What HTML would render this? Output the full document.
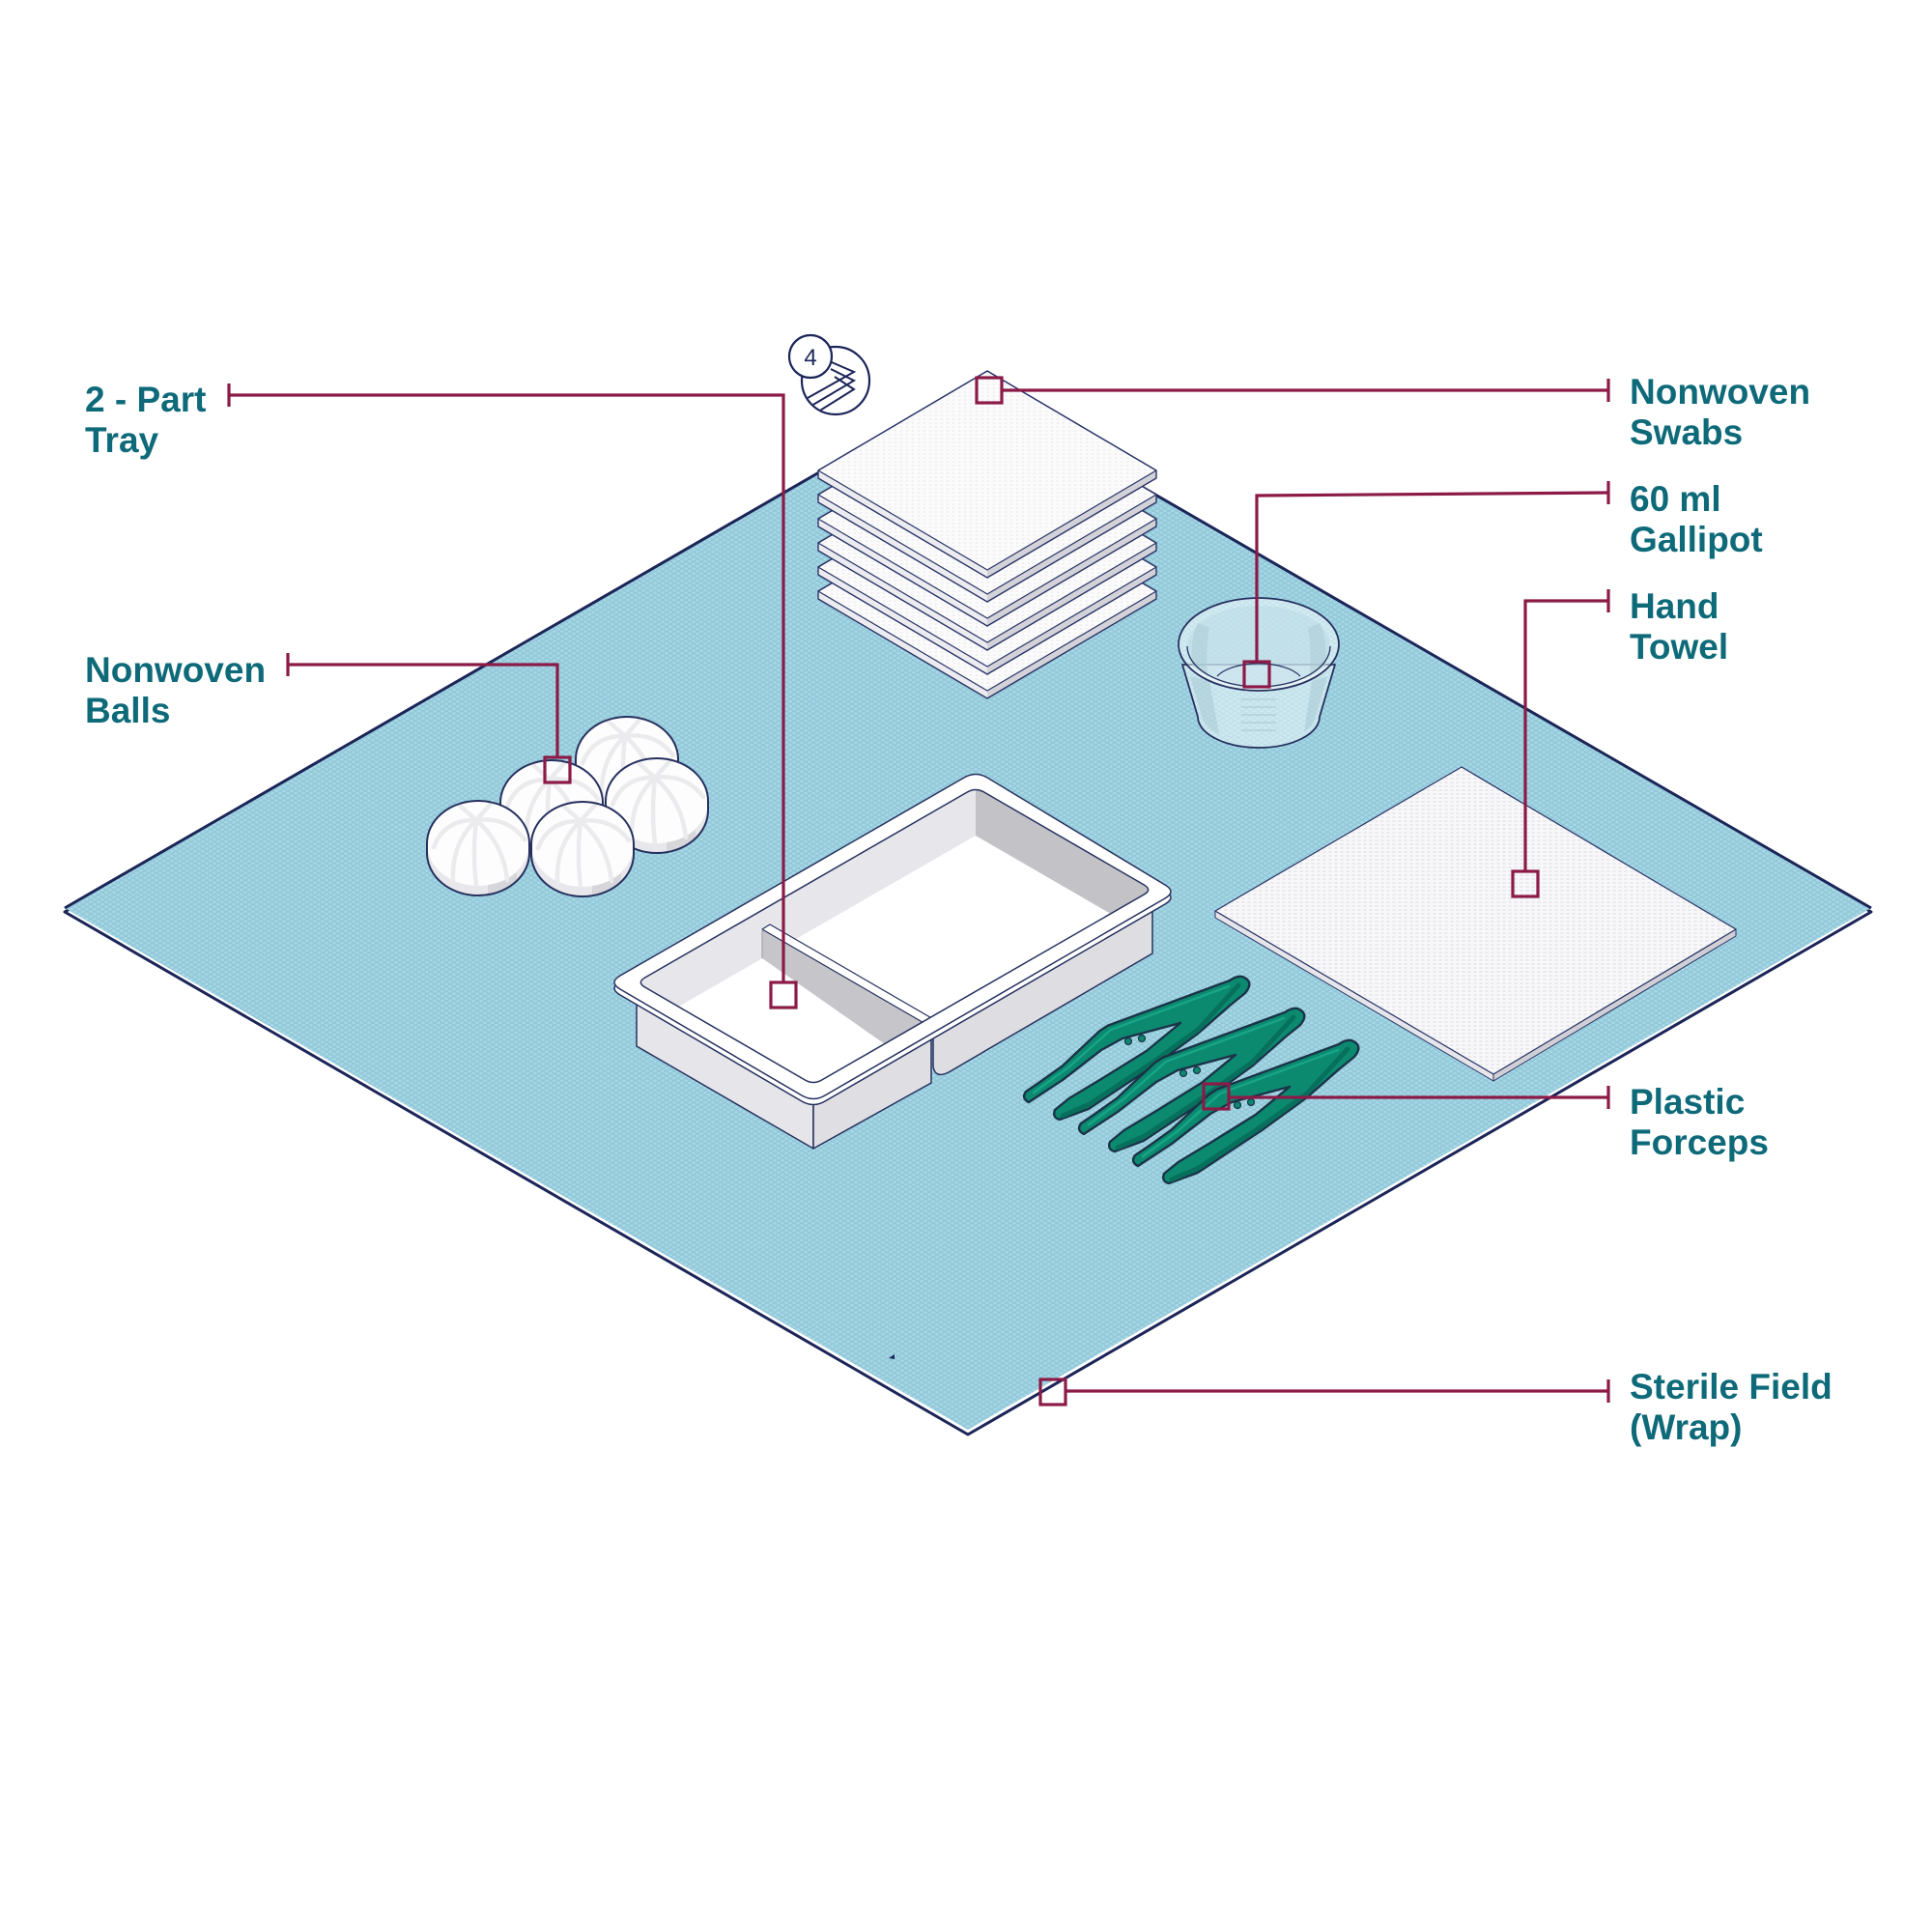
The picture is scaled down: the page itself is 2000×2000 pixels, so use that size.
<!DOCTYPE html>
<html><head><meta charset="utf-8"><style>
html,body{margin:0;padding:0;background:#fff;width:2000px;height:2000px;overflow:hidden;}
svg{display:block;}
.lbl{font-family:"Liberation Sans",Arial,sans-serif;font-weight:bold;font-size:37px;fill:#0e6a79;}
</style></head><body>
<svg width="2000" height="2000" viewBox="0 0 2000 2000" xmlns="http://www.w3.org/2000/svg">
<defs>
<pattern id="hex" width="8" height="5" patternUnits="userSpaceOnUse">
<rect width="8" height="5" fill="#93c9d9"/>
<ellipse cx="2" cy="1.25" rx="1.9" ry="1.2" fill="#a8d8e6"/>
<ellipse cx="6" cy="3.75" rx="1.9" ry="1.2" fill="#a8d8e6"/>
</pattern>
<pattern id="tw" width="6" height="4" patternUnits="userSpaceOnUse">
<rect width="6" height="4" fill="#f8f8fa"/>
<ellipse cx="3" cy="2" rx="2" ry="1" fill="#e9e9ee"/>
</pattern>
<pattern id="sw" width="6" height="4" patternUnits="userSpaceOnUse">
<rect width="6" height="4" fill="#fbfbfc"/>
<ellipse cx="3" cy="2" rx="1.6" ry="0.9" fill="#f0f0f3"/>
</pattern>
<clipPath id="open">
<path d="M667.7,1012 L1001.3,820 Q1010,815 1018.7,820 L1184.3,916 Q1193,921 1184.3,926 L850.7,1118 Q842,1123 833.3,1118 L667.7,1022 Q659,1017 667.7,1012 Z"/>
</clipPath>
<clipPath id="bigc"><circle cx="865" cy="394" r="34"/></clipPath>
</defs>

<rect width="2000" height="2000" fill="#fff"/>

<!-- Sterile field -->
<polygon points="67,944 1002,404 1937,944 1002,1485" fill="#fff" stroke="#1c2558" stroke-width="3" stroke-linejoin="round"/>
<polygon points="67,940 1002,400 1937,940 1002,1480" fill="url(#hex)"/>
<polyline points="67,940 1002,400 1937,940" fill="none" stroke="#1c2558" stroke-width="3" stroke-linejoin="round"/>
<path d="M920,1406 l6,-4 l0,5 z" fill="#1c2558"/>

<!-- Badge -->
<circle cx="865" cy="394" r="35" fill="#fff" stroke="#1c2558" stroke-width="2.2"/>
<g clip-path="url(#bigc)" fill="none" stroke="#1c2558" stroke-width="2">
<polyline points="854,372 884,385 836,412"/>
<polyline points="860,382 884,394 840,420"/>
<polyline points="864,390 884,403 844,428"/>
</g>
<circle cx="839" cy="369" r="22" fill="#fff" stroke="#1c2558" stroke-width="2.2"/>
<text x="839" y="378" text-anchor="middle" font-family="Liberation Sans, Arial, sans-serif" font-size="24" fill="#1c2558">4</text>

<!-- Swab stack -->
<g stroke-linejoin="round">
<g transform="translate(0,125)">
<polygon points="847,487 1022,590 1022,598 847,495" fill="#ececf0"/>
<polygon points="1022,590 1197,487 1197,495 1022,598" fill="#d2d2d8"/>
<polygon points="847,487 1022,384 1197,487 1022,590" fill="url(#sw)" stroke="#2a3366" stroke-width="1.2"/>
<polygon points="847,487 1022,384 1197,487 1197,495 1022,598 847,495" fill="none" stroke="#2a3366" stroke-width="1.4"/>
</g>
<g transform="translate(0,100)">
<polygon points="847,487 1022,590 1022,598 847,495" fill="#ececf0"/>
<polygon points="1022,590 1197,487 1197,495 1022,598" fill="#d2d2d8"/>
<polygon points="847,487 1022,384 1197,487 1022,590" fill="url(#sw)" stroke="#2a3366" stroke-width="1.2"/>
<polygon points="847,487 1022,384 1197,487 1197,495 1022,598 847,495" fill="none" stroke="#2a3366" stroke-width="1.4"/>
</g>
<g transform="translate(0,75)">
<polygon points="847,487 1022,590 1022,598 847,495" fill="#ececf0"/>
<polygon points="1022,590 1197,487 1197,495 1022,598" fill="#d2d2d8"/>
<polygon points="847,487 1022,384 1197,487 1022,590" fill="url(#sw)" stroke="#2a3366" stroke-width="1.2"/>
<polygon points="847,487 1022,384 1197,487 1197,495 1022,598 847,495" fill="none" stroke="#2a3366" stroke-width="1.4"/>
</g>
<g transform="translate(0,50)">
<polygon points="847,487 1022,590 1022,598 847,495" fill="#ececf0"/>
<polygon points="1022,590 1197,487 1197,495 1022,598" fill="#d2d2d8"/>
<polygon points="847,487 1022,384 1197,487 1022,590" fill="url(#sw)" stroke="#2a3366" stroke-width="1.2"/>
<polygon points="847,487 1022,384 1197,487 1197,495 1022,598 847,495" fill="none" stroke="#2a3366" stroke-width="1.4"/>
</g>
<g transform="translate(0,25)">
<polygon points="847,487 1022,590 1022,598 847,495" fill="#ececf0"/>
<polygon points="1022,590 1197,487 1197,495 1022,598" fill="#d2d2d8"/>
<polygon points="847,487 1022,384 1197,487 1022,590" fill="url(#sw)" stroke="#2a3366" stroke-width="1.2"/>
<polygon points="847,487 1022,384 1197,487 1197,495 1022,598 847,495" fill="none" stroke="#2a3366" stroke-width="1.4"/>
</g>
<g>
<polygon points="847,487 1022,590 1022,598 847,495" fill="#ececf0"/>
<polygon points="1022,590 1197,487 1197,495 1022,598" fill="#d2d2d8"/>
<polygon points="847,487 1022,384 1197,487 1022,590" fill="url(#sw)" stroke="#2a3366" stroke-width="1.2"/>
<polygon points="847,487 1022,384 1197,487 1197,495 1022,598 847,495" fill="none" stroke="#2a3366" stroke-width="1.4"/>
</g>
</g>

<!-- Gallipot -->
<g>
<path d="M1224,688 L1240,742 A63,32 0 0 0 1366,742 L1382,688 Z" fill="#ffffff" fill-opacity="0.45" stroke="#26305e" stroke-width="1.8" stroke-linejoin="round"/>
<path d="M1232,700 L1245,745 A63,32 0 0 0 1262,760 L1252,705 Z" fill="#9fc3cf" fill-opacity="0.45"/>
<path d="M1374,700 L1361,745 A63,32 0 0 1 1350,758 L1358,705 Z" fill="#9fc3cf" fill-opacity="0.45"/>
<ellipse cx="1303" cy="667" rx="83" ry="48" fill="#ffffff" fill-opacity="0.5" stroke="#26305e" stroke-width="1.8"/>
<ellipse cx="1303" cy="669" rx="74" ry="42" fill="#b9dbe5" fill-opacity="0.55"/>
<path d="M1240,645 Q1232,660 1234,690 L1250,700 Q1248,670 1252,650 Z" fill="#a9c9d3" fill-opacity="0.5"/>
<path d="M1366,645 Q1374,660 1372,690 L1356,700 Q1358,670 1354,650 Z" fill="#a9c9d3" fill-opacity="0.5"/>
<path d="M1229,669 A74,42 0 0 0 1377,669" fill="none" stroke="#26305e" stroke-width="1.3"/>
<path d="M1260,700 A47,22 0 0 1 1346,700" fill="none" stroke="#26305e" stroke-width="1.2"/>
<g stroke="#b3d0da" stroke-width="1.6">
<line x1="1285" y1="724" x2="1321" y2="724"/>
<line x1="1285" y1="732" x2="1321" y2="732"/>
<line x1="1285" y1="740" x2="1321" y2="740"/>
<line x1="1285" y1="748" x2="1321" y2="748"/>
<line x1="1285" y1="756" x2="1321" y2="756"/>
</g>
</g>

<!-- Hand towel -->
<g stroke-linejoin="round">
<polygon points="1258,943 1546,1112 1546,1119 1258,950" fill="#e6e6ea" stroke="#2a3366" stroke-width="1"/>
<polygon points="1546,1112 1797,962 1797,969 1546,1119" fill="#cfcfd5" stroke="#2a3366" stroke-width="1"/>
<polygon points="1258,943 1513,794 1797,962 1546,1112" fill="url(#tw)" stroke="#2a3366" stroke-width="1.2"/>
</g>

<!-- Balls -->
<g stroke-linecap="round">
<g transform="translate(649,786)">
<path d="M-53,0 A53,44 0 0 1 53,0 L53,10 A53,44 0 0 1 -53,10 Z" fill="#fdfdfd"/>
<path d="M-53,0 A53,44 0 0 0 53,0 L53,10 A53,44 0 0 1 -53,10 Z" fill="#e8e8ec"/>
<path d="M10,43 A53,44 0 0 0 40,30 L40,40 A53,44 0 0 1 10,53 Z" fill="#d6d6db"/>
<g fill="none" stroke="#ebebee" stroke-width="4.5"><path d="M-2,-24 Q-35,-25 -46,4"/><path d="M-2,-24 Q-28,0 -26,40"/><path d="M-2,-24 Q-6,12 -2,43"/><path d="M-2,-24 Q30,-28 48,-4"/><path d="M-2,-24 Q26,0 30,38"/><path d="M-2,-24 L-20,-40"/><path d="M-2,-24 L14,-42"/></g>
<path d="M-53,0 A53,44 0 0 1 53,0 L53,10 A53,44 0 0 1 -53,10 Z" fill="none" stroke="#26305e" stroke-width="2"/>
</g>
<g transform="translate(571,831)">
<path d="M-53,0 A53,44 0 0 1 53,0 L53,10 A53,44 0 0 1 -53,10 Z" fill="#fdfdfd"/>
<path d="M-53,0 A53,44 0 0 0 53,0 L53,10 A53,44 0 0 1 -53,10 Z" fill="#e8e8ec"/>
<path d="M10,43 A53,44 0 0 0 40,30 L40,40 A53,44 0 0 1 10,53 Z" fill="#d6d6db"/>
<g fill="none" stroke="#ebebee" stroke-width="4.5"><path d="M-2,-24 Q-35,-25 -46,4"/><path d="M-2,-24 Q-28,0 -26,40"/><path d="M-2,-24 Q-6,12 -2,43"/><path d="M-2,-24 Q30,-28 48,-4"/><path d="M-2,-24 Q26,0 30,38"/><path d="M-2,-24 L-20,-40"/><path d="M-2,-24 L14,-42"/></g>
<path d="M-53,0 A53,44 0 0 1 53,0 L53,10 A53,44 0 0 1 -53,10 Z" fill="none" stroke="#26305e" stroke-width="2"/>
</g>
<g transform="translate(680,829)">
<path d="M-53,0 A53,44 0 0 1 53,0 L53,10 A53,44 0 0 1 -53,10 Z" fill="#fdfdfd"/>
<path d="M-53,0 A53,44 0 0 0 53,0 L53,10 A53,44 0 0 1 -53,10 Z" fill="#e8e8ec"/>
<path d="M10,43 A53,44 0 0 0 40,30 L40,40 A53,44 0 0 1 10,53 Z" fill="#d6d6db"/>
<g fill="none" stroke="#ebebee" stroke-width="4.5"><path d="M-2,-24 Q-35,-25 -46,4"/><path d="M-2,-24 Q-28,0 -26,40"/><path d="M-2,-24 Q-6,12 -2,43"/><path d="M-2,-24 Q30,-28 48,-4"/><path d="M-2,-24 Q26,0 30,38"/><path d="M-2,-24 L-20,-40"/><path d="M-2,-24 L14,-42"/></g>
<path d="M-53,0 A53,44 0 0 1 53,0 L53,10 A53,44 0 0 1 -53,10 Z" fill="none" stroke="#26305e" stroke-width="2"/>
</g>
<g transform="translate(495,873)">
<path d="M-53,0 A53,44 0 0 1 53,0 L53,10 A53,44 0 0 1 -53,10 Z" fill="#fdfdfd"/>
<path d="M-53,0 A53,44 0 0 0 53,0 L53,10 A53,44 0 0 1 -53,10 Z" fill="#e8e8ec"/>
<path d="M10,43 A53,44 0 0 0 40,30 L40,40 A53,44 0 0 1 10,53 Z" fill="#d6d6db"/>
<g fill="none" stroke="#ebebee" stroke-width="4.5"><path d="M-2,-24 Q-35,-25 -46,4"/><path d="M-2,-24 Q-28,0 -26,40"/><path d="M-2,-24 Q-6,12 -2,43"/><path d="M-2,-24 Q30,-28 48,-4"/><path d="M-2,-24 Q26,0 30,38"/><path d="M-2,-24 L-20,-40"/><path d="M-2,-24 L14,-42"/></g>
<path d="M-53,0 A53,44 0 0 1 53,0 L53,10 A53,44 0 0 1 -53,10 Z" fill="none" stroke="#26305e" stroke-width="2"/>
</g>
<g transform="translate(603,874)">
<path d="M-53,0 A53,44 0 0 1 53,0 L53,10 A53,44 0 0 1 -53,10 Z" fill="#fdfdfd"/>
<path d="M-53,0 A53,44 0 0 0 53,0 L53,10 A53,44 0 0 1 -53,10 Z" fill="#e8e8ec"/>
<path d="M10,43 A53,44 0 0 0 40,30 L40,40 A53,44 0 0 1 10,53 Z" fill="#d6d6db"/>
<g fill="none" stroke="#ebebee" stroke-width="4.5"><path d="M-2,-24 Q-35,-25 -46,4"/><path d="M-2,-24 Q-28,0 -26,40"/><path d="M-2,-24 Q-6,12 -2,43"/><path d="M-2,-24 Q30,-28 48,-4"/><path d="M-2,-24 Q26,0 30,38"/><path d="M-2,-24 L-20,-40"/><path d="M-2,-24 L14,-42"/></g>
<path d="M-53,0 A53,44 0 0 1 53,0 L53,10 A53,44 0 0 1 -53,10 Z" fill="none" stroke="#26305e" stroke-width="2"/>
</g>
</g>

<!-- Tray -->
<g stroke="#26305e" stroke-width="1.5" stroke-linejoin="round">
<polygon points="659,1017 842,1123 842,1189 659,1083" fill="#e6e6ea"/>
<polygon points="842,1123 964,1052 964,1121 842,1189" fill="#dfdfe3"/>
<path d="M966,1060 L1193,930 L1193,987 L982,1110 Q968,1117 966,1104 Z" fill="#dedee2"/>
<path d="M642,1016 L998,811 Q1010,804 1022,811 L1206,922 Q1218,929 1206,936 L854,1140 Q842,1147 830,1140 L642,1030 Q630,1023 642,1016 Z" fill="#fff"/>
<path d="M642,1010 L998,805 Q1010,798 1022,805 L1206,916 Q1218,923 1206,930 L854,1134 Q842,1141 830,1134 L642,1024 Q630,1017 642,1010 Z" fill="#fff"/>
</g>
<g clip-path="url(#open)" stroke-linejoin="round">
<rect x="640" y="800" width="570" height="340" fill="#fff"/>
<polygon points="659,1017 1010,815 1010,865 659,1067" fill="#e7e7eb"/>
<polygon points="1010,815 1193,921 1193,971 1010,865" fill="#c2c2c7"/>
<polygon points="789,962 972,1068 972,1120 789,992" fill="#c5c5ca"/>
<polygon points="789,962 797,957 980,1063 972,1068" fill="#fff" stroke="#26305e" stroke-width="1.2"/>
<line x1="789" y1="962" x2="789" y2="992" stroke="#9a9aa2" stroke-width="1"/>
</g>
<path d="M667.7,1012 L1001.3,820 Q1010,815 1018.7,820 L1184.3,916 Q1193,921 1184.3,926 L850.7,1118 Q842,1123 833.3,1118 L667.7,1022 Q659,1017 667.7,1012 Z" fill="none" stroke="#26305e" stroke-width="1.5"/>

<!-- Forceps -->
<g stroke-linejoin="round">
<g>
<path d="M1273,1015 L1146.7,1061.7 L1138.3,1067.3 L1100,1103.3 L1076.7,1120 L1062,1130 Q1057,1137 1065,1141 L1100,1118 L1140,1087 L1162,1075 L1222,1059 L1186.7,1088 L1140,1117 L1106.7,1137 L1092,1149 Q1089,1157 1097,1159 L1126.7,1148 L1193.3,1104 L1240,1070 L1273,1041 L1289,1028 Q1299,1016 1286,1011 Q1280,1010 1273,1015 Z" fill="#0b8a70" stroke="#1a3347" stroke-width="2.4"/>
<path d="M1282,1020 L1240,1066 L1193,1100 L1128,1143 L1100,1155" fill="none" stroke="#07705d" stroke-width="5" stroke-linecap="round"/>
<path d="M1272,1021 L1150,1066 L1106,1105 L1070,1131" fill="none" stroke="#18a487" stroke-width="2.5" stroke-linecap="round"/>
<circle cx="1168" cy="1078" r="3.5" fill="#0b8a70" stroke="#1a3347" stroke-width="1.2"/>
<circle cx="1182" cy="1075" r="3.5" fill="#0b8a70" stroke="#1a3347" stroke-width="1.2"/>
</g>
<g transform="translate(57,33)">
<path d="M1273,1015 L1146.7,1061.7 L1138.3,1067.3 L1100,1103.3 L1076.7,1120 L1062,1130 Q1057,1137 1065,1141 L1100,1118 L1140,1087 L1162,1075 L1222,1059 L1186.7,1088 L1140,1117 L1106.7,1137 L1092,1149 Q1089,1157 1097,1159 L1126.7,1148 L1193.3,1104 L1240,1070 L1273,1041 L1289,1028 Q1299,1016 1286,1011 Q1280,1010 1273,1015 Z" fill="#0b8a70" stroke="#1a3347" stroke-width="2.4"/>
<path d="M1282,1020 L1240,1066 L1193,1100 L1128,1143 L1100,1155" fill="none" stroke="#07705d" stroke-width="5" stroke-linecap="round"/>
<path d="M1272,1021 L1150,1066 L1106,1105 L1070,1131" fill="none" stroke="#18a487" stroke-width="2.5" stroke-linecap="round"/>
<circle cx="1168" cy="1078" r="3.5" fill="#0b8a70" stroke="#1a3347" stroke-width="1.2"/>
<circle cx="1182" cy="1075" r="3.5" fill="#0b8a70" stroke="#1a3347" stroke-width="1.2"/>
</g>
<g transform="translate(113,66)">
<path d="M1273,1015 L1146.7,1061.7 L1138.3,1067.3 L1100,1103.3 L1076.7,1120 L1062,1130 Q1057,1137 1065,1141 L1100,1118 L1140,1087 L1162,1075 L1222,1059 L1186.7,1088 L1140,1117 L1106.7,1137 L1092,1149 Q1089,1157 1097,1159 L1126.7,1148 L1193.3,1104 L1240,1070 L1273,1041 L1289,1028 Q1299,1016 1286,1011 Q1280,1010 1273,1015 Z" fill="#0b8a70" stroke="#1a3347" stroke-width="2.4"/>
<path d="M1282,1020 L1240,1066 L1193,1100 L1128,1143 L1100,1155" fill="none" stroke="#07705d" stroke-width="5" stroke-linecap="round"/>
<path d="M1272,1021 L1150,1066 L1106,1105 L1070,1131" fill="none" stroke="#18a487" stroke-width="2.5" stroke-linecap="round"/>
<circle cx="1168" cy="1078" r="3.5" fill="#0b8a70" stroke="#1a3347" stroke-width="1.2"/>
<circle cx="1182" cy="1075" r="3.5" fill="#0b8a70" stroke="#1a3347" stroke-width="1.2"/>
</g>
</g>

<!-- Connectors -->
<g fill="none" stroke="#8b1a47" stroke-width="3.2" stroke-linejoin="miter">
<line x1="237" y1="397" x2="237" y2="421"/>
<polyline points="237,409 811,409 811,1017"/>
<rect x="798" y="1017" width="26" height="26"/>
<line x1="298" y1="676" x2="298" y2="700"/>
<polyline points="298,688 577,688 577,784"/>
<rect x="564" y="784" width="26" height="26"/>
<line x1="1665" y1="392" x2="1665" y2="416"/>
<line x1="1665" y1="404" x2="1037" y2="404"/>
<rect x="1011" y="391" width="26" height="26"/>
<line x1="1665" y1="498" x2="1665" y2="522"/>
<polyline points="1665,510 1301,513 1301,685"/>
<rect x="1288" y="685" width="26" height="26"/>
<line x1="1665" y1="610" x2="1665" y2="634"/>
<polyline points="1665,622 1579,622 1579,902"/>
<rect x="1566" y="902" width="26" height="26"/>
<line x1="1665" y1="1124" x2="1665" y2="1148"/>
<line x1="1665" y1="1136" x2="1272" y2="1136"/>
<rect x="1246" y="1122" width="26" height="26"/>
<line x1="1665" y1="1428" x2="1665" y2="1452"/>
<line x1="1665" y1="1440" x2="1103" y2="1440"/>
<rect x="1077" y="1428" width="26" height="26"/>
</g>

<!-- Labels -->
<text class="lbl" x="88" y="426">2 - Part</text>
<text class="lbl" x="88" y="468">Tray</text>
<text class="lbl" x="88" y="706">Nonwoven</text>
<text class="lbl" x="88" y="748">Balls</text>
<text class="lbl" x="1687" y="418">Nonwoven</text>
<text class="lbl" x="1687" y="460">Swabs</text>
<text class="lbl" x="1687" y="529">60 ml</text>
<text class="lbl" x="1687" y="571">Gallipot</text>
<text class="lbl" x="1687" y="640">Hand</text>
<text class="lbl" x="1687" y="682">Towel</text>
<text class="lbl" x="1687" y="1153">Plastic</text>
<text class="lbl" x="1687" y="1195">Forceps</text>
<text class="lbl" x="1687" y="1448">Sterile Field</text>
<text class="lbl" x="1687" y="1490">(Wrap)</text>
</svg>
</body></html>
